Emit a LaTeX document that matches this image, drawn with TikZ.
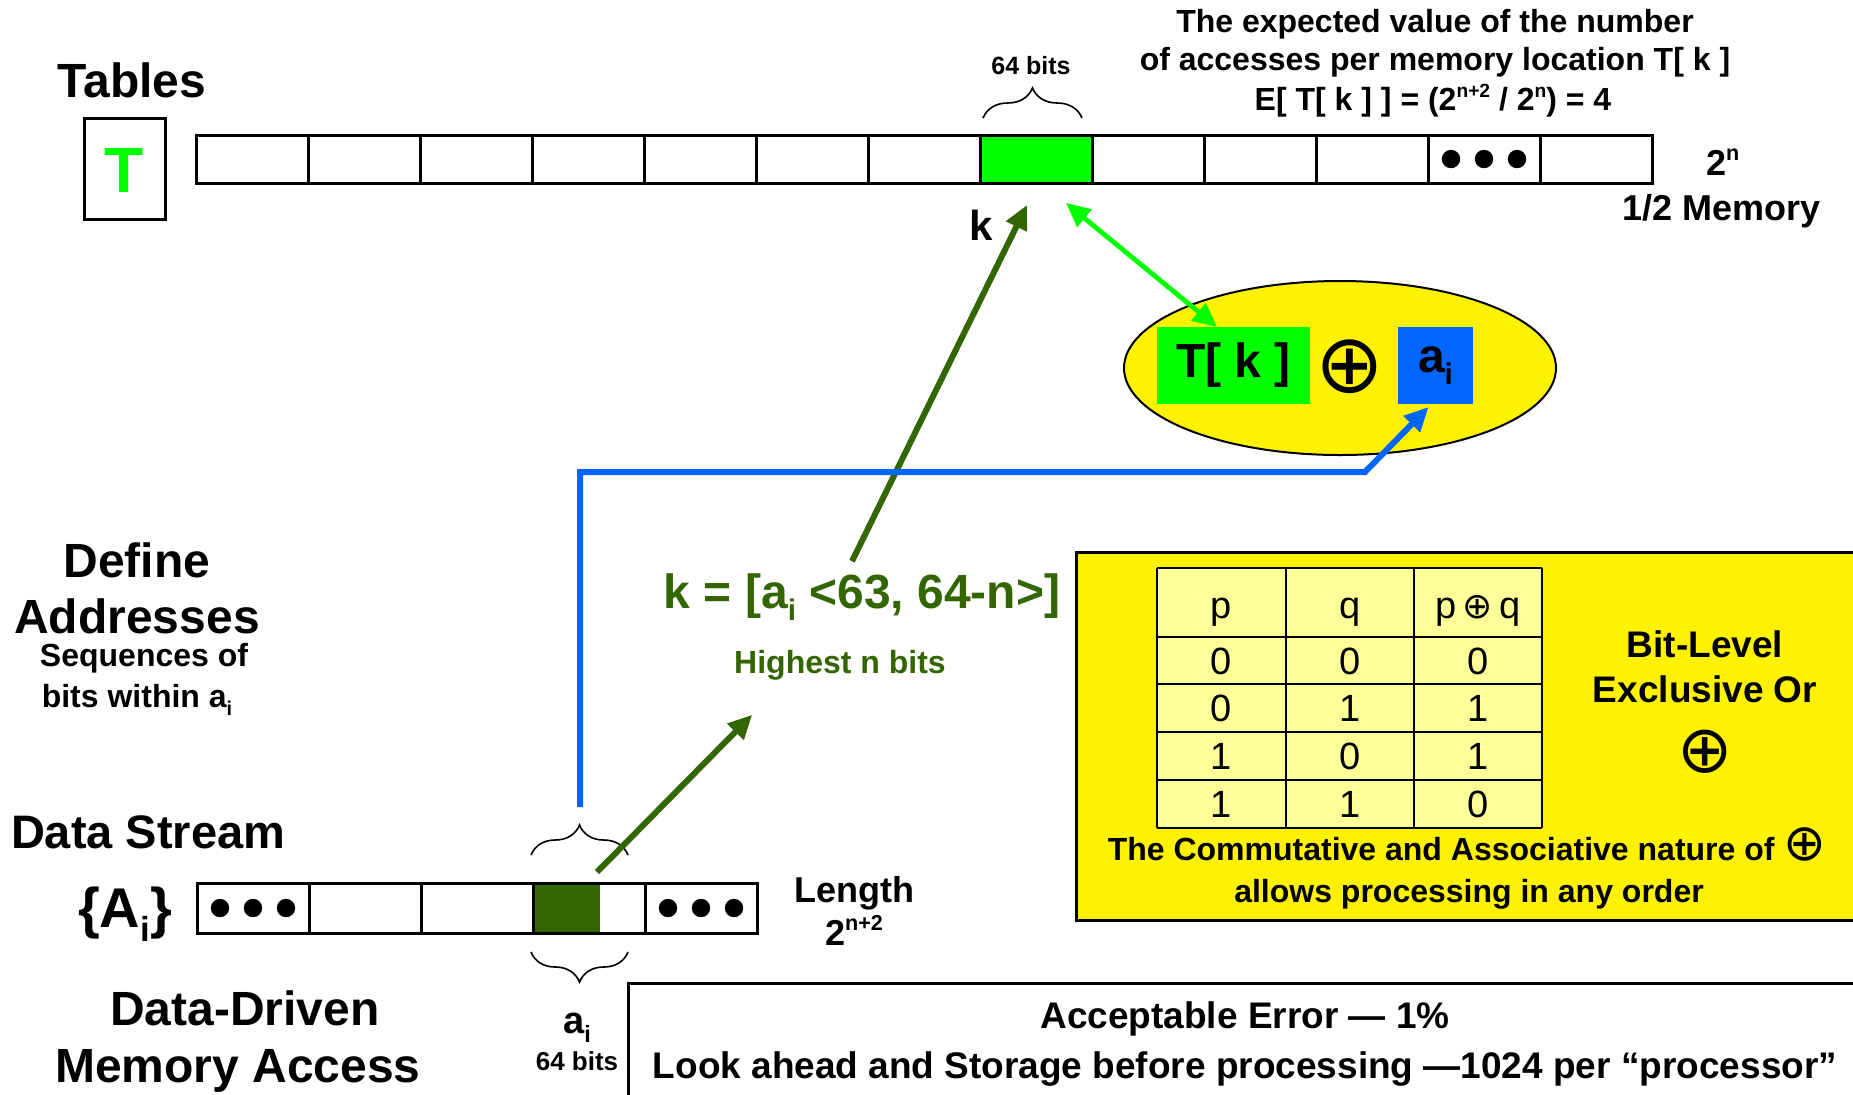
\documentclass[tikz,border=0pt]{standalone}
\usepackage{fontspec}
\setmainfont{Liberation Sans}
\newfontfamily\djv{DejaVu Sans}
\usetikzlibrary{arrows.meta,shapes.geometric,decorations.pathreplacing,calc}
\definecolor{brgreen}{HTML}{00FF00}
\definecolor{dkgreen}{HTML}{336600}
\definecolor{xblue}{HTML}{0066FF}
\definecolor{tabyel}{HTML}{FFFF99}
\newcommand\Bf[1]{\fontsize{#1}{#1}\selectfont\bfseries}
\newcommand\Rg[1]{\fontsize{#1}{#1}\selectfont\mdseries}
\newcommand\sbs[1]{\raisebox{-0.25em}{\scalebox{0.62}{#1}}}
\newcommand\sps[1]{\raisebox{0.40em}{\scalebox{0.6}{#1}}}
\newcommand\xopl[1]{{\djv\mdseries\fontsize{#1}{#1}\selectfont ⊕}}
\begin{document}
\begin{tikzpicture}[x=0.5pt,y=-0.5pt,
  every node/.style={inner sep=0pt,outer sep=0pt},
  lbl/.style={anchor=base,align=center},
  cellbox/.style={draw,line width=1.5pt,minimum width=56pt,minimum height=24pt},
  dcell/.style={draw,line width=1.5pt,minimum width=56pt,minimum height=25pt},
  onehead/.style={-{Triangle[length=12pt,width=11pt]}},
  twohead/.style={{Triangle[length=12pt,width=11pt]}-{Triangle[length=12pt,width=11pt]}},
  brc/.style={decorate,line width=0.8pt}
]
\path[use as bounding box] (0,0) rectangle (1853,1094);
\clip (0,0) rectangle (1853,1094);

% ---------- Tables ----------
\node[lbl,font=\Bf{24}] (tables) at (132,97) {Tables};
\node[draw,line width=1.5pt,minimum width=40.5pt,minimum height=50.5pt] (tbox) at (124.5,168.5) {};
\node[lbl,font=\Bf{32},text=brgreen] (tlet) at (124.5,192) {T};

\foreach \i in {0,...,12}{\node[cellbox] (c\i) at ({252+112*\i},159) {};}
\node[cellbox,fill=brgreen] (c7) at (1036,159) {};
\foreach \dx in {-33,0,33}{\fill ($(c11.center)+(\dx,0)$) circle[radius=4.6pt];}

\node[lbl,font=\Bf{12.5}] (bits64top) at (1031,74) {64 bits};
\draw[brc,decoration={brace,amplitude=15pt}] (983,118) -- (1082,118);

\node[lbl,font=\Bf{16}] (ev1) at (1435,32) {The expected value of the number};
\node[lbl,font=\Bf{16}] (ev2) at (1435,70) {of accesses per memory location T[ k ]};
\node[lbl,font=\Bf{16}] (ev3) at (1433,110) {E[ T[ k ] ] = (2\sps{n+2} / 2\sps{n}) = 4};

\node[anchor=base west,font=\Bf{18}] (twon) at (1706,175) {2\sps{n}};
\node[lbl,font=\Bf{18}] (halfmem) at (1722,220) {1/2 Memory};

\node[lbl,font=\Bf{21}] (klbl) at (981,240) {k};

% ---------- XOR ellipse ----------
\node[ellipse,draw,fill=yellow,line width=1pt,minimum width=216pt,minimum height=87pt] (ell) at (1340,368) {};
\node[fill=brgreen,minimum width=76.5pt,minimum height=38.5pt,font=\Bf{24}] (tk) at (1233.5,365.5) {T[ k ]};
\node[fill=xblue,minimum width=37.5pt,minimum height=38.5pt,font=\Bf{24}] (ai) at (1435.5,365.5) {a\sbs{i}};
\node (op1) at (1350,367) {\xopl{41}};

% ---------- right yellow box ----------
\node[draw,fill=yellow,line width=1.5pt,anchor=north west,minimum width=392pt,minimum height=184pt] (xorbox) at (1076,552) {};
\fill[tabyel] (1157,568) rectangle (1542,828);
\foreach \xx in {1157,1286,1414,1542}{\draw[line width=1pt] (\xx,568) -- (\xx,828);}
\foreach \yy in {568,637,684,732,780,828}{\draw[line width=1pt] (1157,\yy) -- (1542,\yy);}
\node[lbl,font=\Rg{19}] (hp) at (1221.5,618) {p};
\node[lbl,font=\Rg{19}] (hq) at (1350,618) {q};
\node[lbl,font=\Rg{19}] (hpq) at (1478,618) {p\hspace{3pt}\xopl{18}\hspace{3pt}q};
\foreach \r/\yc/\a/\b/\c in {1/661/0/0/0,2/708/0/1/1,3/756/1/0/1,4/804/1/1/0}{
  \node[font=\Rg{19}] (p\r) at (1221.5,\yc) {\a};
  \node[font=\Rg{19}] (q\r) at (1350,\yc) {\b};
  \node[font=\Rg{19}] (x\r) at (1478,\yc) {\c};
}
\node[lbl,font=\Bf{18.5}] (bitlevel) at (1705,657) {Bit-Level};
\node[lbl,font=\Bf{18.5}] (exor) at (1705,702) {Exclusive Or};
\node (op2) at (1705,752) {\xopl{33}};
\node[lbl,font=\Bf{16}] (comm1) at (1467,860) {The Commutative and Associative nature of \xopl{25.5}};
\node[lbl,font=\Bf{16}] (comm2) at (1469,902) {allows processing in any order};

% ---------- left labels ----------
\node[lbl,font=\Bf{24}] (define) at (137,577) {Define};
\node[lbl,font=\Bf{24}] (addr) at (137,633) {Addresses};
\node[lbl,font=\Bf{16}] (seq1) at (144,666) {Sequences of};
\node[lbl,font=\Bf{16}] (seq2) at (137,707) {bits within a\sbs{i}};

\node[lbl,font=\Bf{24},text=dkgreen] (kform) at (862,608) {k = [a\sbs{i} <63, 64-n>]};
\node[lbl,font=\Bf{16},text=dkgreen] (highest) at (840,673) {Highest n bits};

% ---------- data stream ----------
\node[anchor=base west,font=\Bf{23.5}] (dstream) at (11,848) {Data Stream};
\node[lbl,font=\Bf{28}] (Ai) at (125,927) {\{A\sbs{i}\}};
\node[fill=dkgreen,minimum width=33.5pt,minimum height=25pt] (agreen) at (566.5,908) {};
\foreach \i in {0,...,4}{\node[dcell] (d\i) at ({253+112*\i},908) {};}
\foreach \dx in {-33,0,33}{\fill ($(d0.center)+(\dx,0)$) circle[radius=4.6pt];
  \fill ($(d4.center)+(\dx,0)$) circle[radius=4.6pt];}
\draw[brc,decoration={brace,amplitude=15pt}] (531,855) -- (628,855);
\draw[brc,decoration={brace,amplitude=15pt}] (628,952) -- (531,952);
\node[lbl,font=\Bf{18}] (length) at (854,902) {Length};
\node[lbl,font=\Bf{18}] (lenval) at (854,945) {2\sps{n+2}};
\node[lbl,font=\Bf{19}] (ailow) at (577,1033) {a\sbs{i}};
\node[lbl,font=\Bf{13}] (bits64low) at (577,1070) {64 bits};
\node[lbl,font=\Bf{24}] (ddriven) at (245,1025) {Data-Driven};
\node[lbl,font=\Bf{24}] (memacc) at (238,1082) {Memory Access};

% ---------- bottom box ----------
\node[draw,line width=1.5pt,anchor=north west,minimum width=616pt,minimum height=58pt] (botbox) at (628,983) {};
\node[lbl,font=\Bf{18.5}] (err) at (1245,1028) {Acceptable Error — 1\%};
\node[lbl,font=\Bf{18.5}] (look) at (1245,1078) {Look ahead and Storage before processing —1024 per “processor”};

% ---------- connectors ----------
\coordinate (gstart) at ($(agreen.north east)+(-3,-11)$);
\coordinate (gmid) at ($(highest.south west)+(18,35)$);
\coordinate (kstart) at ($(kform.north)+(-10,-12)$);
\draw[onehead,dkgreen,line width=3pt] (gstart) -- (gmid);
\draw[onehead,dkgreen,line width=3pt] (kstart) -- ($(c7.south)+(-9,22)$);
\draw[twohead,brgreen,line width=2.4pt] ($(c7.south)+(30,20)$) -- ($(tk.north)+(-16.5,0)$);
\coordinate (bstart) at (580,807);
\draw[onehead,xblue,line width=3pt] (bstart) -- (580,472) -- (1365,472) -- ($(ai.south)+(-7,3)$);
\end{tikzpicture}
\end{document}
